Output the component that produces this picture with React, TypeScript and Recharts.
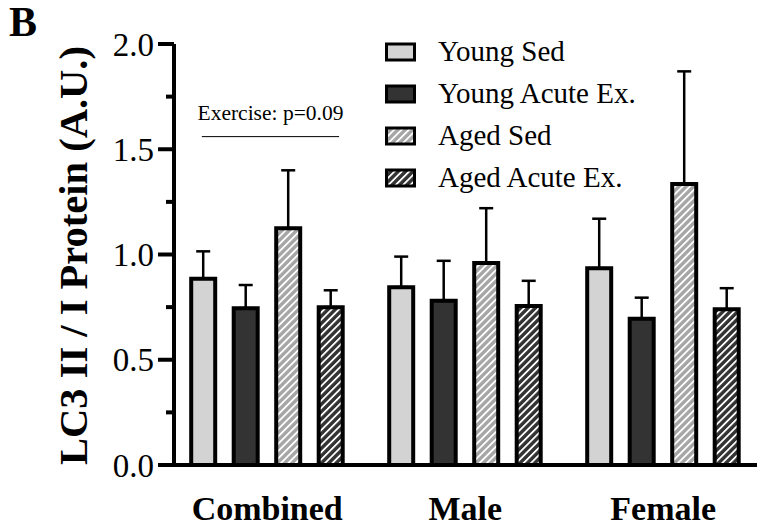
import React from "react";
import { BarChart, Bar, XAxis, YAxis, ErrorBar, Legend, ReferenceLine } from "recharts";

const groups = ["Combined", "Male", "Female"];
const youngSed = [0.885, 0.845, 0.935];
const youngSedSem = [0.13, 0.145, 0.235];
const youngEx = [0.745, 0.78, 0.695];
const youngExSem = [0.11, 0.19, 0.1];
const agedSed = [1.125, 0.96, 1.335];
const agedSedSem = [0.275, 0.26, 0.535];
const agedEx = [0.75, 0.755, 0.74];
const agedExSem = [0.08, 0.12, 0.1];

const yTicks = [0, 0.25, 0.5, 0.75, 1, 1.25, 1.5, 1.75, 2];
const majorTicks = [0, 0.5, 1, 1.5, 2];

// significance bar over the Combined group (x in group units, y in A.U.)
const exerciseLabel = "Exercise: p=0.09";
const exerciseLine = [
  { x: 0.17, y: 1.56 },
  { x: 0.863, y: 1.56 },
];

const serif = '"Liberation Serif", "Times New Roman", serif';

const data = groups.map((group, i) => ({
  group,
  pos: i + 0.5,
  ys: youngSed[i],
  ysErr: [0, youngSedSem[i]],
  ye: youngEx[i],
  yeErr: [0, youngExSem[i]],
  as: agedSed[i],
  asErr: [0, agedSedSem[i]],
  ae: agedEx[i],
  aeErr: [0, agedExSem[i]],
}));

const series = [
  { key: "ys", name: "Young Sed", fill: "#d3d3d3" },
  { key: "ye", name: "Young Acute Ex.", fill: "#333333" },
  { key: "as", name: "Aged Sed", fill: "url(#hatchGray)" },
  { key: "ae", name: "Aged Acute Ex.", fill: "url(#hatchDark)" },
];

const YTick = (props: any) => {
  const { x, y, payload } = props;
  const major = majorTicks.includes(payload.value);
  return (
    <g>
      <line x1={x + (major ? 4 : 12)} x2={x + 20} y1={y} y2={y} stroke="#000" strokeWidth={4} />
      {major && (
        <text x={x} y={y} dy="0.35em" textAnchor="end" fontFamily={serif} fontSize={33} fill="#000">
          {payload.value.toFixed(1)}
        </text>
      )}
    </g>
  );
};

const YLabel = (props: any) => {
  const { viewBox } = props;
  const cx = viewBox.x + 87;
  const cy = viewBox.y + viewBox.height / 2 + 1;
  return (
    <text
      x={cx}
      y={cy}
      transform={`rotate(-90, ${cx}, ${cy})`}
      textAnchor="middle"
      fontFamily={serif}
      fontWeight="bold"
      fontSize={40.5}
      fill="#000"
    >
      LC3 II / I Protein (A.U.)
    </text>
  );
};

const LegendBox = (props: any) => {
  const order = series.map((s) => s.name);
  const payload = [...(props.payload || [])].sort(
    (a: any, b: any) => order.indexOf(a.value) - order.indexOf(b.value)
  );
  return (
    <div>
      {payload.map((entry: any) => (
        <div key={entry.value} style={{ display: "flex", alignItems: "center", height: 41.9 }}>
          <svg width={36} height={22}>
            <rect x={3.5} y={3} width={28} height={16} fill={entry.color} stroke="#000" strokeWidth={3} />
          </svg>
          <span style={{ marginLeft: 19, fontFamily: serif, fontSize: 29, lineHeight: 1, color: "#000" }}>
            {entry.value}
          </span>
        </div>
      ))}
    </div>
  );
};

export default function App() {
  return (
    <div style={{ position: "absolute", left: 0, top: 0, width: 757, height: 528, overflow: "hidden", background: "#fff" }}>
      <svg width={0} height={0} style={{ position: "absolute" }}>
        <defs>
          <pattern id="hatchGray" patternUnits="userSpaceOnUse" width={5.2} height={5.2} patternTransform="rotate(45)">
            <rect width={5.2} height={5.2} fill="#a6a6a6" />
            <rect width={1.8} height={5.2} fill="#fff" />
          </pattern>
          <pattern id="hatchDark" patternUnits="userSpaceOnUse" width={5.2} height={5.2} patternTransform="rotate(45)">
            <rect width={5.2} height={5.2} fill="#333333" />
            <rect width={1.8} height={5.2} fill="#fff" />
          </pattern>
        </defs>
      </svg>
      <BarChart
        width={757}
        height={528}
        data={data}
        margin={{ top: 44, right: 0, bottom: 0, left: 0 }}
        barSize={24}
        barGap={18.5}
      >
        <XAxis
          dataKey="group"
          height={63}
          tickLine={false}
          tickSize={0}
          tickMargin={31}
          interval={0}
          padding={{ left: -5.8, right: -5.2 }}
          axisLine={{ stroke: "#000", strokeWidth: 4 }}
          tick={{ fontFamily: serif, fontWeight: "bold", fontSize: 34, fill: "#000" }}
        />
        <XAxis
          xAxisId="n"
          dataKey="pos"
          type="number"
          domain={[0, 3]}
          ticks={[0, 1, 2, 3]}
          allowDataOverflow
          hide
          padding={{ left: -5.8, right: -5.2 }}
        />
        <YAxis
          type="number"
          domain={[0, 2]}
          ticks={yTicks}
          interval={0}
          width={174}
          tickSize={16}
          tickMargin={4}
          tickLine={false}
          axisLine={{ stroke: "#000", strokeWidth: 4 }}
          tick={<YTick />}
          label={<YLabel />}
        />
        <Legend
          layout="vertical"
          align="center"
          verticalAlign="middle"
          itemSorter={null as any}
          wrapperStyle={{ left: 383, top: 31, width: 300 }}
          content={<LegendBox />}
        />
        <ReferenceLine
          xAxisId="n"
          segment={exerciseLine}
          stroke="#000"
          strokeWidth={1}
          label={{ value: exerciseLabel, position: "top", offset: 17, fill: "#000", fontFamily: serif, fontSize: 21.5 }}
        />
        {series.map((s) => (
          <Bar
            key={s.key}
            dataKey={s.key}
            name={s.name}
            fill={s.fill}
            stroke="#000"
            strokeWidth={4}
            isAnimationActive={false}
          >
            <ErrorBar dataKey={`${s.key}Err`} direction="y" width={7} stroke="#000" strokeWidth={2.5} />
          </Bar>
        ))}
      </BarChart>
      <svg width={60} height={50} style={{ position: "absolute", left: 0, top: 0 }}>
        <text x={9} y={36} fontFamily={serif} fontWeight="bold" fontSize={42} fill="#000">
          B
        </text>
      </svg>
    </div>
  );
}
